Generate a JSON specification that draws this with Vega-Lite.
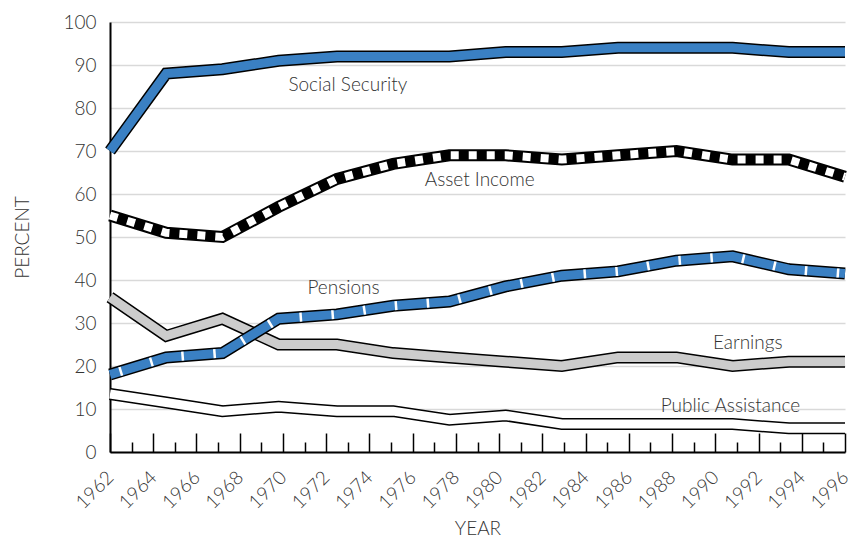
{
  "$schema": "https://vega.github.io/schema/vega-lite/v6.json",
  "width": 735,
  "height": 430,
  "autosize": {"type": "none"},
  "padding": {"left": 110, "top": 22, "right": 16, "bottom": 90},
  "background": "white",
  "config": {
    "font": "Lato",
    "view": {"stroke": null},
    "axisY": {
      "values": [0, 10, 20, 30, 40, 50, 60, 70, 80, 90, 100],
      "grid": true, "gridColor": "#d9d9d9", "gridWidth": 1.5,
      "domain": true, "domainColor": "#000000", "domainWidth": 2,
      "ticks": false,
      "labelFontSize": 19, "labelColor": "#333333", "labelFontWeight": 300, "labelPadding": 14,
      "titleFontSize": 19, "titleFontWeight": 300, "titleColor": "#333333", "titlePadding": 30
    },
    "axisX": {"grid": false}
  },
  "datasets": {
    "lines": [
      {"s": "Social Security", "x": 1962, "pct": 70},
      {"s": "Social Security", "x": 1964.6, "pct": 88},
      {"s": "Social Security", "x": 1967.2, "pct": 89},
      {"s": "Social Security", "x": 1969.8, "pct": 91},
      {"s": "Social Security", "x": 1972.5, "pct": 92},
      {"s": "Social Security", "x": 1975.1, "pct": 92},
      {"s": "Social Security", "x": 1977.7, "pct": 92},
      {"s": "Social Security", "x": 1980.3, "pct": 93},
      {"s": "Social Security", "x": 1982.9, "pct": 93},
      {"s": "Social Security", "x": 1985.5, "pct": 94},
      {"s": "Social Security", "x": 1988.2, "pct": 94},
      {"s": "Social Security", "x": 1990.8, "pct": 94},
      {"s": "Social Security", "x": 1993.4, "pct": 93},
      {"s": "Social Security", "x": 1996, "pct": 93},
      {"s": "Asset Income", "x": 1962, "pct": 55},
      {"s": "Asset Income", "x": 1964.6, "pct": 51},
      {"s": "Asset Income", "x": 1967.2, "pct": 50},
      {"s": "Asset Income", "x": 1969.8, "pct": 57},
      {"s": "Asset Income", "x": 1972.5, "pct": 63.5},
      {"s": "Asset Income", "x": 1975.1, "pct": 67},
      {"s": "Asset Income", "x": 1977.7, "pct": 69},
      {"s": "Asset Income", "x": 1980.3, "pct": 69},
      {"s": "Asset Income", "x": 1982.9, "pct": 68},
      {"s": "Asset Income", "x": 1985.5, "pct": 69},
      {"s": "Asset Income", "x": 1988.2, "pct": 70},
      {"s": "Asset Income", "x": 1990.8, "pct": 68},
      {"s": "Asset Income", "x": 1993.4, "pct": 68},
      {"s": "Asset Income", "x": 1996, "pct": 64},
      {"s": "Pensions", "x": 1962, "pct": 18},
      {"s": "Pensions", "x": 1964.6, "pct": 22},
      {"s": "Pensions", "x": 1967.2, "pct": 23},
      {"s": "Pensions", "x": 1969.8, "pct": 31},
      {"s": "Pensions", "x": 1972.5, "pct": 32},
      {"s": "Pensions", "x": 1975.1, "pct": 34},
      {"s": "Pensions", "x": 1977.7, "pct": 35},
      {"s": "Pensions", "x": 1980.3, "pct": 38.5},
      {"s": "Pensions", "x": 1982.9, "pct": 41},
      {"s": "Pensions", "x": 1985.5, "pct": 42},
      {"s": "Pensions", "x": 1988.2, "pct": 44.5},
      {"s": "Pensions", "x": 1990.8, "pct": 45.5},
      {"s": "Pensions", "x": 1993.4, "pct": 42.5},
      {"s": "Pensions", "x": 1996, "pct": 41.5},
      {"s": "Earnings", "x": 1962, "pct": 36},
      {"s": "Earnings", "x": 1964.6, "pct": 27},
      {"s": "Earnings", "x": 1967.2, "pct": 31},
      {"s": "Earnings", "x": 1969.8, "pct": 25},
      {"s": "Earnings", "x": 1972.5, "pct": 25},
      {"s": "Earnings", "x": 1975.1, "pct": 23},
      {"s": "Earnings", "x": 1977.7, "pct": 22},
      {"s": "Earnings", "x": 1980.3, "pct": 21},
      {"s": "Earnings", "x": 1982.9, "pct": 20},
      {"s": "Earnings", "x": 1985.5, "pct": 22},
      {"s": "Earnings", "x": 1988.2, "pct": 22},
      {"s": "Earnings", "x": 1990.8, "pct": 20},
      {"s": "Earnings", "x": 1993.4, "pct": 21},
      {"s": "Earnings", "x": 1996, "pct": 21},
      {"s": "Public Assistance", "x": 1962, "pct": 13.5},
      {"s": "Public Assistance", "x": 1964.6, "pct": 11.5},
      {"s": "Public Assistance", "x": 1967.2, "pct": 9.5},
      {"s": "Public Assistance", "x": 1969.8, "pct": 10.5},
      {"s": "Public Assistance", "x": 1972.5, "pct": 9.5},
      {"s": "Public Assistance", "x": 1975.1, "pct": 9.5},
      {"s": "Public Assistance", "x": 1977.7, "pct": 7.5},
      {"s": "Public Assistance", "x": 1980.3, "pct": 8.5},
      {"s": "Public Assistance", "x": 1982.9, "pct": 6.5},
      {"s": "Public Assistance", "x": 1985.5, "pct": 6.5},
      {"s": "Public Assistance", "x": 1988.2, "pct": 6.5},
      {"s": "Public Assistance", "x": 1990.8, "pct": 6.5},
      {"s": "Public Assistance", "x": 1993.4, "pct": 5.5},
      {"s": "Public Assistance", "x": 1996, "pct": 5.5}
    ],
    "labels": [
      {"label": "Social Security", "x": 1973.0, "pct": 85.3},
      {"label": "Asset Income", "x": 1979.1, "pct": 63.3},
      {"label": "Pensions", "x": 1972.8, "pct": 38.1},
      {"label": "Earnings", "x": 1991.5, "pct": 25.3},
      {"label": "Public Assistance", "x": 1990.7, "pct": 10.7}
    ]
  },
  "data": {"name": "lines"},
  "resolve": {"axis": {"x": "independent"}},
  "layer": [
    {
      "transform": [{"filter": "datum.s === 'Public Assistance'"}],
      "mark": {"type": "line", "color": "#000000", "strokeWidth": 12, "strokeCap": "butt", "strokeJoin": "miter"},
      "encoding": {
        "x": {"field": "x", "type": "quantitative", "scale": {"domain": [1962, 1996], "nice": false, "zero": false},
          "axis": {"values": [1962,1964,1966,1968,1970,1972,1974,1976,1978,1980,1982,1984,1986,1988,1990,1992,1994,1996],
            "format": "d", "orient": "bottom", "ticks": false, "domain": true, "domainColor": "#000000", "domainWidth": 2,
            "labelAngle": -45, "labelAlign": "right", "labelBaseline": "middle", "labelPadding": 22,
            "labelFontSize": 19, "labelColor": "#333333", "labelFontWeight": 300, "labelOverlap": false,
            "title": "YEAR", "titleFontSize": 19, "titleFontWeight": 300, "titleColor": "#333333", "titlePadding": 7}},
        "y": {"field": "pct", "type": "quantitative", "scale": {"domain": [0, 100], "nice": false}, "title": "PERCENT"}
      }
    },
    {
      "transform": [{"filter": "datum.s === 'Public Assistance'"}],
      "mark": {"type": "line", "color": "#ffffff", "strokeWidth": 9, "strokeCap": "butt", "strokeJoin": "miter"},
      "encoding": {
        "x": {"field": "x", "type": "quantitative",
          "axis": {"values": [1962,1964,1966,1968,1970,1972,1974,1976,1978,1980,1982,1984,1986,1988,1990,1992,1994,1996],
            "orient": "bottom", "offset": -19, "tickSize": 19, "tickColor": "#000000", "tickWidth": 1.5,
            "labels": false, "domain": false, "title": null}},
        "y": {"field": "pct", "type": "quantitative", "title": "PERCENT"}
      }
    },
    {
      "transform": [{"filter": "datum.s === 'Earnings'"}],
      "mark": {"type": "line", "color": "#000000", "strokeWidth": 12, "strokeCap": "butt", "strokeJoin": "miter"},
      "encoding": {
        "x": {"field": "x", "type": "quantitative",
          "axis": {"values": [1963,1965,1967,1969,1971,1973,1975,1977,1979,1981,1983,1985,1987,1989,1991,1993,1995],
            "orient": "bottom", "offset": -10, "tickSize": 10, "tickColor": "#000000", "tickWidth": 1.5,
            "labels": false, "domain": false, "title": null}},
        "y": {"field": "pct", "type": "quantitative", "title": "PERCENT"}
      }
    },
    {
      "transform": [{"filter": "datum.s === 'Earnings'"}],
      "mark": {"type": "line", "color": "#cccccc", "strokeWidth": 9, "strokeCap": "butt", "strokeJoin": "miter"},
      "encoding": {
        "x": {"field": "x", "type": "quantitative", "axis": null},
        "y": {"field": "pct", "type": "quantitative", "title": "PERCENT"}
      }
    },
    {
      "transform": [{"filter": "datum.s === 'Pensions'"}],
      "mark": {"type": "line", "color": "#000000", "strokeWidth": 12, "strokeCap": "butt", "strokeJoin": "miter"},
      "encoding": {
        "x": {"field": "x", "type": "quantitative", "axis": null},
        "y": {"field": "pct", "type": "quantitative", "title": "PERCENT"}
      }
    },
    {
      "transform": [{"filter": "datum.s === 'Pensions'"}],
      "mark": {"type": "line", "color": "#3a80c3", "strokeWidth": 9, "strokeCap": "butt", "strokeJoin": "miter"},
      "encoding": {
        "x": {"field": "x", "type": "quantitative", "axis": null},
        "y": {"field": "pct", "type": "quantitative", "title": "PERCENT"}
      }
    },
    {
      "transform": [{"filter": "datum.s === 'Pensions'"}],
      "mark": {"type": "line", "color": "#ffffff", "strokeWidth": 9, "strokeCap": "butt", "strokeJoin": "miter", "strokeDash": [2.5, 29.5], "strokeDashOffset": -10},
      "encoding": {
        "x": {"field": "x", "type": "quantitative", "axis": null},
        "y": {"field": "pct", "type": "quantitative", "title": "PERCENT"}
      }
    },
    {
      "transform": [{"filter": "datum.s === 'Asset Income'"}],
      "mark": {"type": "line", "color": "#000000", "strokeWidth": 12, "strokeCap": "butt", "strokeJoin": "miter"},
      "encoding": {
        "x": {"field": "x", "type": "quantitative", "axis": null},
        "y": {"field": "pct", "type": "quantitative", "title": "PERCENT"}
      }
    },
    {
      "transform": [{"filter": "datum.s === 'Asset Income'"}],
      "mark": {"type": "line", "color": "#ffffff", "strokeWidth": 8, "strokeCap": "butt", "strokeJoin": "miter", "strokeDash": [8, 10]},
      "encoding": {
        "x": {"field": "x", "type": "quantitative", "axis": null},
        "y": {"field": "pct", "type": "quantitative", "title": "PERCENT"}
      }
    },
    {
      "transform": [{"filter": "datum.s === 'Social Security'"}],
      "mark": {"type": "line", "color": "#000000", "strokeWidth": 12, "strokeCap": "butt", "strokeJoin": "miter"},
      "encoding": {
        "x": {"field": "x", "type": "quantitative", "axis": null},
        "y": {"field": "pct", "type": "quantitative", "title": "PERCENT"}
      }
    },
    {
      "transform": [{"filter": "datum.s === 'Social Security'"}],
      "mark": {"type": "line", "color": "#3a80c3", "strokeWidth": 9, "strokeCap": "butt", "strokeJoin": "miter"},
      "encoding": {
        "x": {"field": "x", "type": "quantitative", "axis": null},
        "y": {"field": "pct", "type": "quantitative", "title": "PERCENT"}
      }
    },
    {
      "data": {"name": "labels"},
      "mark": {"type": "text", "fontSize": 19, "fontWeight": 300, "color": "#333333", "align": "center", "baseline": "middle"},
      "encoding": {
        "x": {"field": "x", "type": "quantitative", "axis": null},
        "y": {"field": "pct", "type": "quantitative", "title": "PERCENT"},
        "text": {"field": "label"}
      }
    }
  ]
}
